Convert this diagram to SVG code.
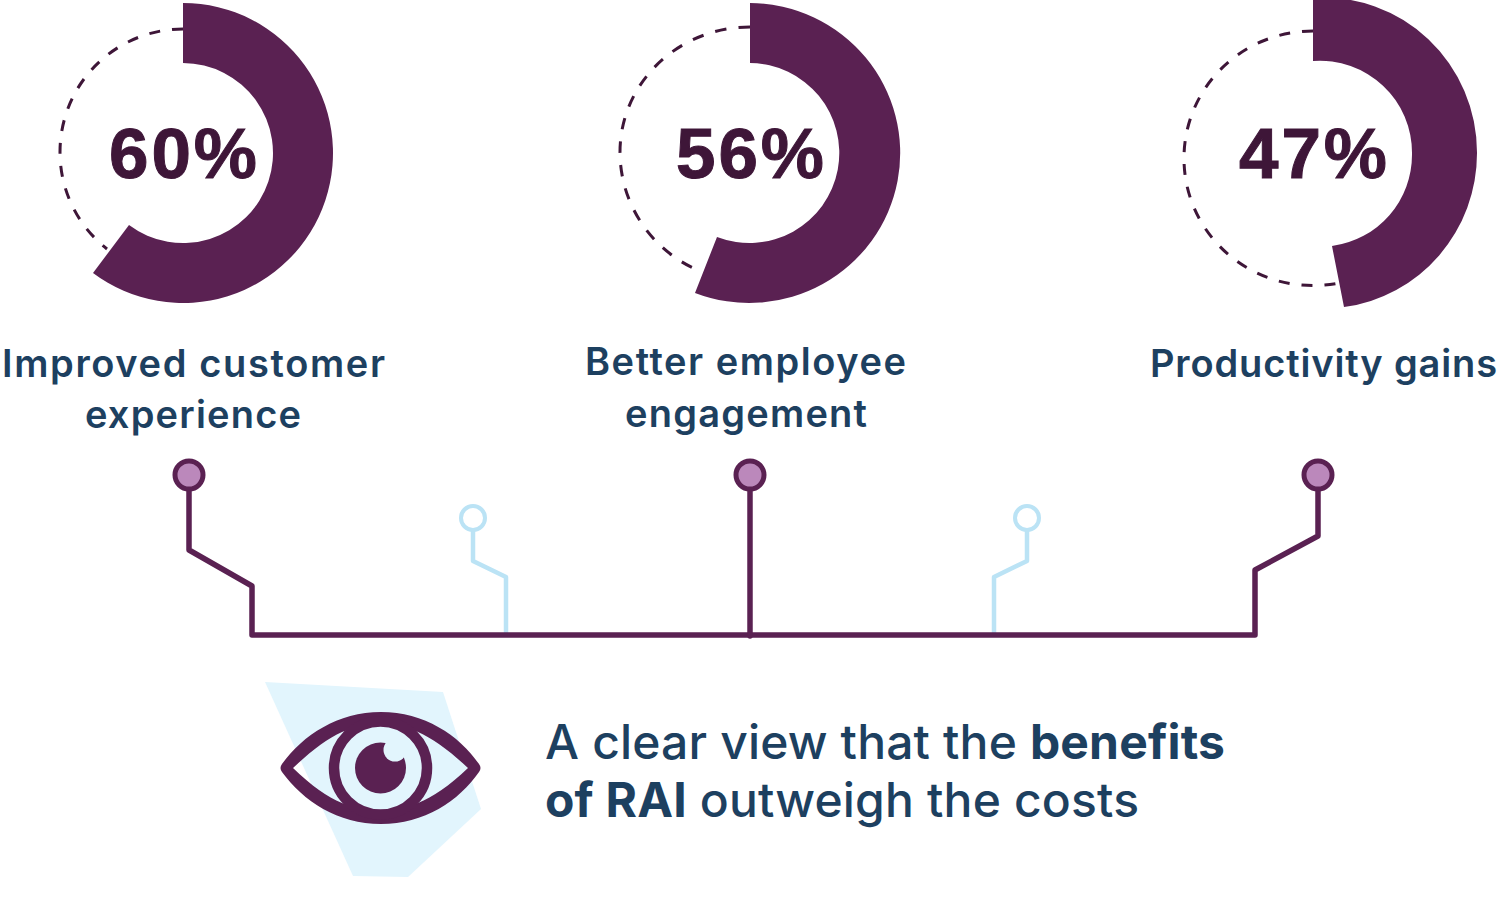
<svg xmlns="http://www.w3.org/2000/svg" width="1500" height="900" viewBox="0 0 1500 900">
<style>
.arc{fill:#5a2152}
.dash{fill:none;stroke:#3e1638;stroke-width:3;stroke-dasharray:11 12}
.pct{font:700 71px "Liberation Sans",Arimo,sans-serif;fill:#3e1638;stroke:#3e1638;stroke-width:1;text-anchor:middle}
.lab{font:600 38px Inter,"Noto Sans",sans-serif;fill:#1d4060}
.big{font:500 48px Inter,"Noto Sans",sans-serif;fill:#1d4060}
.wire{fill:none;stroke:#5a2152;stroke-width:5.500;stroke-linejoin:round;stroke-linecap:round}
.lite{fill:none;stroke:#bbe3f5;stroke-width:4.500;stroke-linejoin:round}
.pin{fill:#bb88bb;stroke:#5a2152;stroke-width:5}
.pin2{fill:#fff;stroke:#bbe3f5;stroke-width:4}
</style>
<g id="connectors">
<path class="lite" d="M473 530V561L506 577V635"/>
<path class="lite" d="M1027 530V561L994 577V635"/>
<path class="wire" d="M189 490V550L252 586V635H1255V570L1318 536V490"/>
<path class="wire" d="M750 490V636"/>
</g>
<g id="donut1">
<path class="dash" d="M183 29A123 123 0 0 0 60 152A123 123 0 0 0 107 249"/>
<path class="arc" d="M183 3A150 150 0 1 1 93 273L129 225A90 90 0 1 0 183 63Z"/>
<text class="pct" x="183" y="178" textLength="148">60%</text>
</g>
<g id="donut2">
<path class="dash" style="stroke-dasharray:11.500 12.200" d="M750 27A130 125 0 0 0 620 152A130 129 0 0 0 693 268"/>
<path class="arc" d="M750 3A151 150 0 1 1 695 293L717 237A90 90 0 1 0 750 63Z"/>
<text class="pct" x="750" y="178" textLength="148">56%</text>
</g>
<g id="donut3">
<path class="dash" d="M1313 31A129 127 0 0 0 1184 158A129 127 0 0 0 1339 283"/>
<path class="arc" d="M1313 -2A153 155 0 0 1 1477 153A153 155 0 0 1 1344 307L1332 246A92 92 0 0 0 1412 154A92 92 0 0 0 1313 61Z"/>
<text class="pct" x="1313" y="178" textLength="148">47%</text>
</g>
<g id="label1"><text class="lab" x="2" y="377" textLength="383">Improved customer</text><text class="lab" x="85" y="428" textLength="216">experience</text></g>
<g id="label2"><text class="lab" x="585" y="375" textLength="321">Better employee</text><text class="lab" x="625" y="427" textLength="242">engagement</text></g>
<g id="label3"><text class="lab" x="1150" y="377" textLength="347">Productivity gains</text></g>
<g id="pin1"><circle class="pin" cx="189" cy="475" r="14"/></g>
<g id="pin2"><circle class="pin" cx="750" cy="475" r="14"/></g>
<g id="pin3"><circle class="pin" cx="1318" cy="475" r="14"/></g>
<g id="pin4"><circle class="pin2" cx="473" cy="518" r="12"/></g>
<g id="pin5"><circle class="pin2" cx="1027" cy="518" r="12"/></g>
<g id="eye">
<path d="M265 682L443 692L481 809L408 877L353 876Z" fill="#e2f5fd"/>
<path fill="#5a2152" fill-rule="evenodd" d="M282 764C303 735 338 712 381 712C424 712 459 735 479 764Q482 768 479 772C459 801 424 824 381 824C338 824 303 801 282 772Q279 768 282 764ZM293 768C312 750 327 739 342 732Q381 716 418 732C433 739 449 750 468 768C449 786 433 797 418 803Q381 820 342 803C327 797 312 786 293 768Z"/>
<circle cx="380.500" cy="768" r="46.500" fill="none" stroke="#5a2152" stroke-width="10.500"/>
<circle cx="380.500" cy="768" r="25.500" fill="#5a2152"/>
<circle cx="395" cy="750" r="11.500" fill="#e2f5fd"/>
</g>
<g id="caption">
<text class="big" x="545" y="759" textLength="680">A clear view that the <tspan font-weight="700">benefits</tspan></text>
<text class="big" x="545" y="817" textLength="594"><tspan font-weight="700">of RAI</tspan> outweigh the costs</text>
</g>
</svg>
